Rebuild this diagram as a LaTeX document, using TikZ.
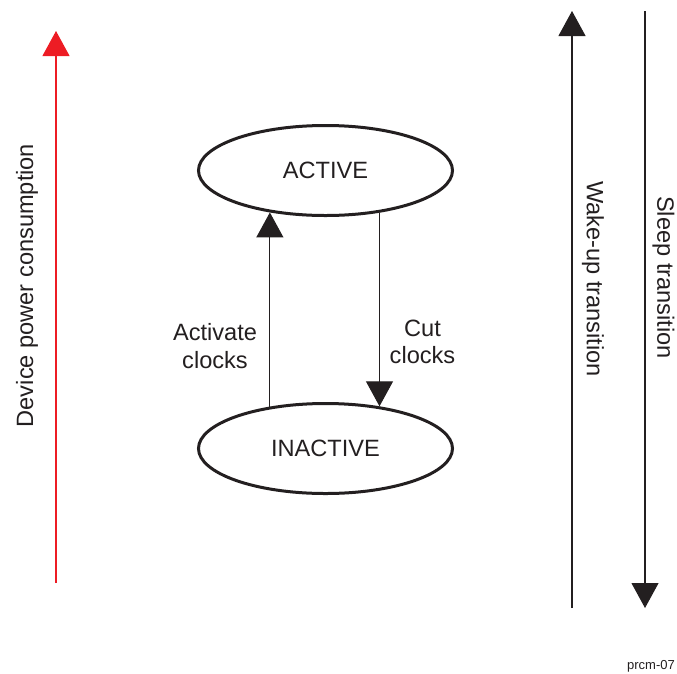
\documentclass[tikz,border=0pt]{standalone}
\usepackage{fontspec}
\setmainfont{Liberation Sans}
\definecolor{powerred}{HTML}{ED1C24}
\definecolor{inkgray}{HTML}{231F20}
\usetikzlibrary{arrows.meta, shapes.geometric}

\begin{document}
\begin{tikzpicture}[x=1pt, y=-1pt, >={Triangle[width=27pt, length=25pt]},
    state/.style={ellipse, draw=inkgray, line width=3pt, minimum width=254pt,
      minimum height=90pt, inner sep=0pt, text=inkgray},
    lbl/.style={text=inkgray, align=center},
    flow/.style={->, inkgray, line width=1.1pt}]
  \useasboundingbox (0,0) rectangle (677,673);
  \fontsize{23.6}{27.5}\selectfont

  % power states
  \node[state] (active) at (325.5,170.5) {ACTIVE};
  \node[state] (inactive) at (325.5,448.5) {INACTIVE};
  \draw[flow] (inactive.143) -- (active.217);
  \draw[flow] (active.-38) -- (inactive.38);
  \node[lbl] (actlbl) at (215,346) {Activate\\clocks};
  \node[lbl] (cutlbl) at (422.5,342) {Cut\\clocks};

  % side axes
  \coordinate (pwrlo) at (56,583);
  \coordinate (pwrhi) at (56,31);
  \draw[->, powerred, line width=1.1pt] (pwrlo) -- (pwrhi);
  \node[lbl, rotate=90] (pwrlbl) at (27,285.5) {Device power consumption};
  \coordinate (wakelo) at (572,608);
  \coordinate (wakehi) at (572,11);
  \draw[flow] (wakelo) -- (wakehi);
  \node[lbl, rotate=-90] (wakelbl) at (593,279) {Wake-up transition};
  \coordinate (sleephi) at (645,11);
  \coordinate (sleeplo) at (645,608);
  \draw[flow] (sleephi) -- (sleeplo);
  \node[lbl, rotate=-90] (sleeplbl) at (663.5,277.5) {Sleep transition};

  \node[lbl, anchor=base, font=\fontsize{13}{15}\selectfont] (figid) at (651,669) {prcm-07};
\end{tikzpicture}
\end{document}
